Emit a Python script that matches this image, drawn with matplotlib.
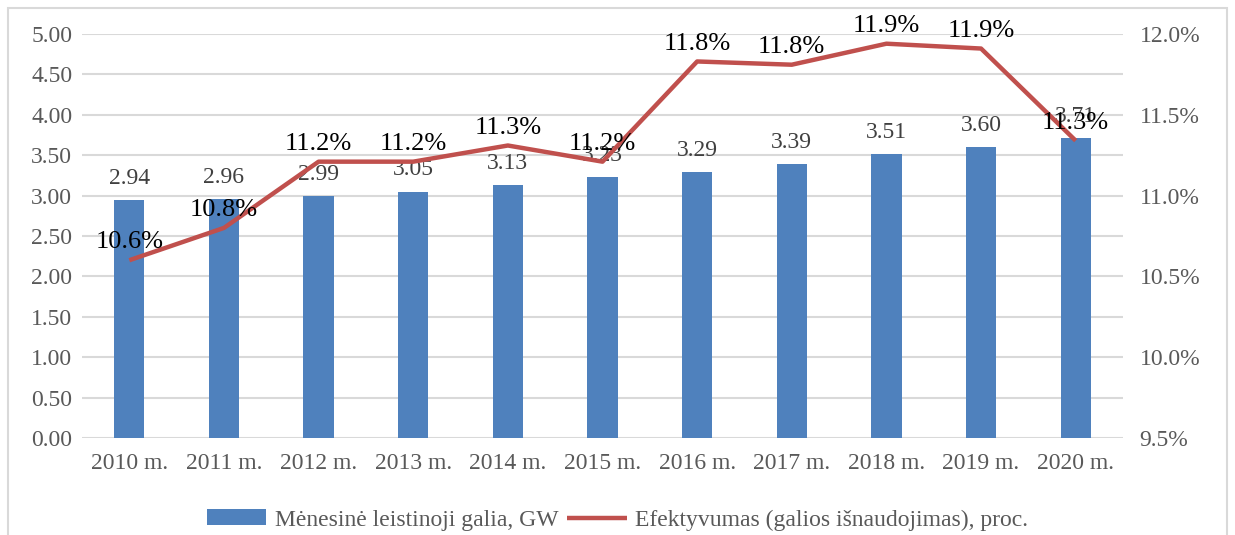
import matplotlib
matplotlib.use("Agg")
import matplotlib.pyplot as plt
from matplotlib.patches import Rectangle
from matplotlib.ticker import FuncFormatter, MultipleLocator

plt.rcParams['font.family'] = ['Liberation Serif', 'DejaVu Serif']

years = ["2010 m.", "2011 m.", "2012 m.", "2013 m.", "2014 m.", "2015 m.",
         "2016 m.", "2017 m.", "2018 m.", "2019 m.", "2020 m."]
capacity_gw = [2.94, 2.96, 2.99, 3.05, 3.13, 3.23, 3.29, 3.39, 3.51, 3.60, 3.71]
efficiency_pct = [10.60, 10.80, 11.21, 11.21, 11.31, 11.21, 11.83, 11.81, 11.94, 11.91, 11.34]
bar_label = "Mėnesinė leistinoji galia, GW"
line_label = "Efektyvumas (galios išnaudojimas), proc."

BLUE = "#4F81BD"
RED = "#C0504D"
GRID = "#D9D9D9"
TICK = "#595959"

fig = plt.figure(figsize=(12.35, 5.35), dpi=100)
fig.patches.append(Rectangle((8/1235, -0.05), 1219/1235, 1.05 - 8/535, transform=fig.transFigure,
                             fill=False, edgecolor=GRID, linewidth=1.5, zorder=0))

ax = fig.add_axes([82/1235, 1 - 438/535, (1123 - 82)/1235, (438 - 34)/535])
x = list(range(len(years)))
bars = ax.bar(x, capacity_gw, width=0.32, color=BLUE, zorder=2, label=bar_label)
ax.set_xlim(-0.5, len(years) - 0.5)
ax.set_ylim(0, 5)
ax.yaxis.set_major_locator(MultipleLocator(0.5))
ax.yaxis.set_major_formatter(FuncFormatter(lambda v, p: f"{v:.2f}"))
ax.set_xticks(x)
ax.set_xticklabels(years)
ax.grid(axis='y', color=GRID, linewidth=1.5, zorder=0)
ax.set_axisbelow(True)
for s in ax.spines.values():
    s.set_visible(False)
ax.tick_params(axis='both', length=0, labelsize=17, labelcolor=TICK)
ax.tick_params(axis='y', pad=7)
ax.tick_params(axis='x', pad=11)
for xi, v in zip(x, capacity_gw):
    ax.annotate(f"{v:.2f}", (xi, v), xytext=(0, 8), textcoords='offset points',
                ha='center', va='bottom', fontsize=17, color="#404040", zorder=3)

ax2 = ax.twinx()
ln, = ax2.plot(x, efficiency_pct, color=RED, linewidth=3.2, zorder=4, label=line_label,
               solid_capstyle='butt')
ax2.set_ylim(9.5, 12.0)
ax2.yaxis.set_major_locator(MultipleLocator(0.5))
ax2.yaxis.set_major_formatter(FuncFormatter(lambda v, p: f"{v:.1f}%"))
for s in ax2.spines.values():
    s.set_visible(False)
ax2.tick_params(axis='y', length=0, labelsize=17, labelcolor=TICK, pad=12)
for xi, v in zip(x, efficiency_pct):
    ax2.annotate(f"{v:.1f}%", (xi, v), xytext=(0, 5), textcoords='offset points',
                 ha='center', va='bottom', fontsize=19, color="black", zorder=5)

fig.legend([bars, ln], [bar_label, line_label], loc='center', bbox_to_anchor=(0.5, 1 - 520/535),
           ncol=2, frameon=False, fontsize=17, handlelength=2.5, handleheight=0.65,
           columnspacing=0.4, handletextpad=0.35, labelcolor=TICK)

fig.savefig("out.png", dpi=100)
